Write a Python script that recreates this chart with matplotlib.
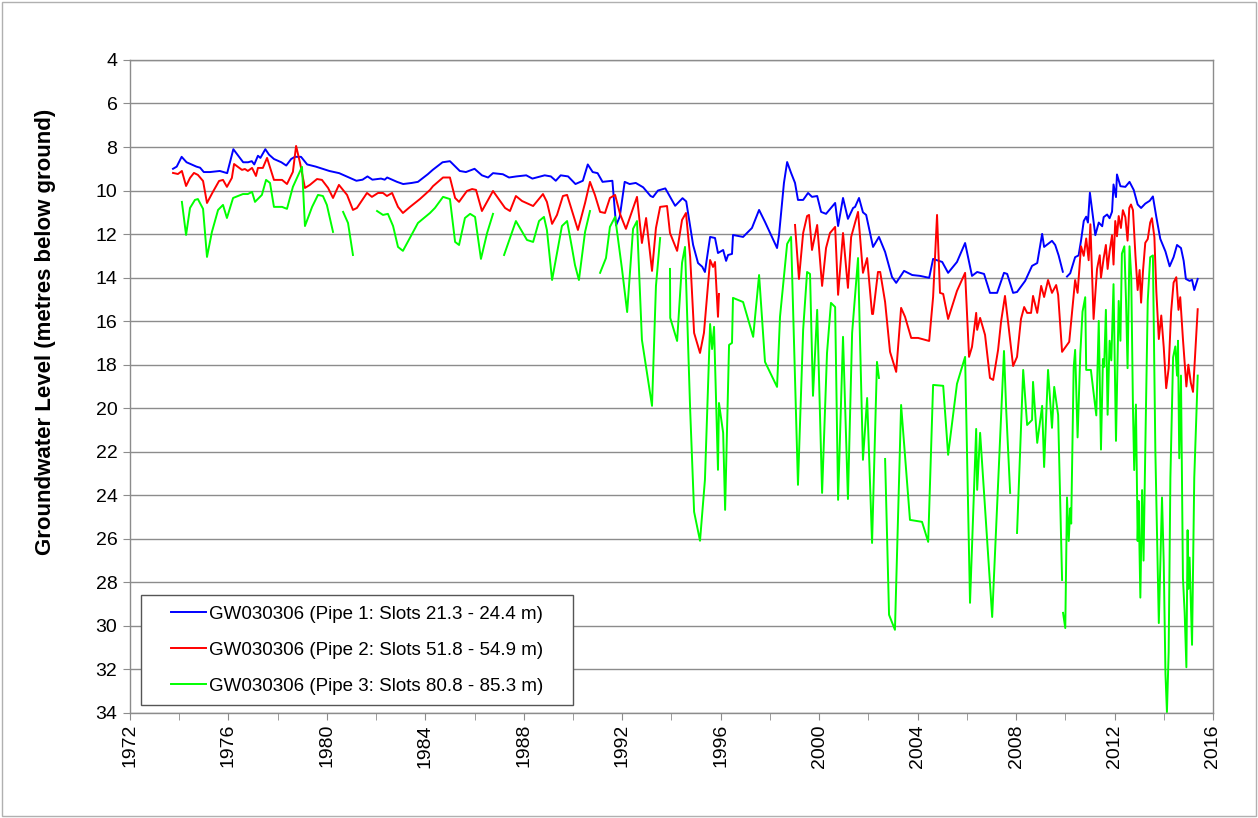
import numpy as np
import matplotlib.pyplot as plt
from matplotlib.patches import Rectangle
from matplotlib.ticker import MultipleLocator
from matplotlib.legend_handler import HandlerLine2D

nan = np.nan

# Pipe 1 (blue)
pipe1_year = [1973.75, 1973.9, 1974.1, 1974.3, 1974.5, 1974.7, 1974.85, 1975.0, 1975.25, 1975.65,
              1975.95, 1976.2, 1976.4, 1976.6, 1976.8, 1976.95, 1977.05, 1977.2, 1977.3, 1977.5,
              1977.65, 1977.85, 1978.15, 1978.35, 1978.55, 1978.7, 1978.95, 1979.2, 1979.55, 1980.1,
              1980.5, 1980.9, 1981.2, 1981.45, 1981.65, 1981.85, 1982.2, 1982.35, 1982.45, 1982.85,
              1983.1, 1983.45, 1983.7, 1984.1, 1984.3, 1984.7, 1985.0, 1985.4, 1985.65, 1986.0,
              1986.3, 1986.55, 1986.75, 1987.15, 1987.4, 1987.7, 1988.1, 1988.35, 1988.85, 1989.1,
              1989.3, 1989.5, 1989.8, 1990.1, 1990.4, 1990.6, 1990.8, 1991.0, 1991.2, 1991.6,
              1991.75, 1991.9, 1992.1, 1992.3, 1992.55, 1992.85, 1993.15, 1993.25, 1993.45, 1993.75,
              1994.15, 1994.45, 1994.6, 1994.88, 1995.08, 1995.25, 1995.36, 1995.57, 1995.77, 1995.89,
              1996.1, 1996.22, 1996.3, 1996.46, 1996.5, 1996.91, 1997.27, 1997.56, 1997.8, 1998.29,
              1998.37, 1998.57, 1998.7, 1998.86, 1999.02, 1999.14, 1999.35, 1999.55, 1999.71, 1999.92,
              2000.08, 2000.28, 2000.65, 2000.77, 2000.97, 2001.17, 2001.38, 2001.46, 2001.62, 2001.78,
              2001.91, 2002.19, 2002.43, 2002.68, 2002.96, 2003.13, 2003.45, 2003.78, 2004.1, 2004.47,
              2004.63, 2005.0, 2005.24, 2005.6, 2005.93, 2006.21, 2006.42, 2006.7, 2006.94, 2007.23,
              2007.51, 2007.64, 2007.88, 2008.04, 2008.37, 2008.65, 2008.86, 2009.06, 2009.14, 2009.46,
              2009.59, 2009.73, 2009.9, 2010.0, 2010.07, 2010.2, 2010.4, 2010.54, 2010.64, 2010.75,
              2010.85, 2010.92, 2011.0, 2011.08, 2011.22, 2011.36, 2011.5, 2011.56, 2011.7, 2011.8,
              2011.9, 2011.96, 2012.06, 2012.1, 2012.24, 2012.44, 2012.61, 2012.78, 2012.94, 2013.08,
              2013.25, 2013.43, 2013.56, 2013.7, 2013.86, 2014.07, 2014.24, 2014.4, 2014.54, 2014.7,
              2014.81, 2014.9, 2015.05, 2015.15, 2015.24, 2015.38]
pipe1_level = [9.0, 8.9, 8.45, 8.7, 8.8, 8.9, 8.95, 9.15, 9.15, 9.1,
               9.2, 8.1, 8.4, 8.7, 8.7, 8.65, 8.8, 8.4, 8.5, 8.1,
               8.35, 8.55, 8.7, 8.85, 8.55, 8.45, 8.45, 8.8, 8.9, 9.1,
               9.2, 9.4, 9.55, 9.5, 9.35, 9.5, 9.45, 9.5, 9.4, 9.6,
               9.7, 9.65, 9.6, 9.25, 9.05, 8.7, 8.65, 9.1, 9.15, 9.0,
               9.3, 9.4, 9.2, 9.25, 9.4, 9.35, 9.3, 9.45, 9.3, 9.35,
               9.55, 9.3, 9.35, 9.7, 9.55, 8.8, 9.15, 9.2, 9.6, 9.55,
               11.6, 11.2, 9.6, 9.7, 9.65, 9.85, 10.25, 10.3, 10.0, 9.9,
               10.7, 10.35, 10.5, 12.5, 13.33, 13.5, 13.74, 12.13, 12.18, 12.87,
               12.73, 13.23, 12.96, 12.91, 12.04, 12.13, 11.72, 10.89, 11.44, 12.64,
               12.04, 9.65, 8.69, 9.19, 9.65, 10.43, 10.43, 10.11, 10.29, 10.25,
               10.98, 11.07, 10.57, 11.63, 10.34, 11.3, 10.8, 10.75, 10.34, 11.0,
               11.12, 12.59, 12.13, 12.82, 13.97, 14.24, 13.69, 13.88, 13.92, 14.01,
               13.14, 13.28, 13.78, 13.28, 12.41, 13.92, 13.74, 13.83, 14.7, 14.7,
               13.78, 13.83, 14.7, 14.66, 14.15, 13.46, 13.33, 11.99, 12.59, 12.31,
               12.5, 12.98, 13.73, nan, 13.95, 13.8, 13.06, 12.98, 12.3, 11.4,
               11.2, 11.47, 10.1, 10.8, 12.05, 11.47, 11.64, 11.22, 11.1, 11.27,
               10.97, 9.72, 10.3, 9.26, 9.8, 9.83, 9.6, 9.97, 10.64, 10.8,
               10.6, 10.47, 10.27, 11.22, 12.22, 12.8, 13.48, 13.06, 12.5, 12.64,
               13.23, 14.06, 14.15, 14.1, 14.57, 14.06]

# Pipe 2 (red)
pipe2_year = [1973.75, 1973.95, 1974.11, 1974.28, 1974.44, 1974.6, 1974.76, 1974.97, 1975.13, 1975.37,
              1975.62, 1975.78, 1975.94, 1976.14, 1976.23, 1976.55, 1976.67, 1976.79, 1976.96, 1977.12,
              1977.2, 1977.4, 1977.57, 1977.85, 1978.18, 1978.38, 1978.62, 1978.75, 1978.91, 1979.11,
              1979.31, 1979.6, 1979.8, 1980.05, 1980.25, 1980.49, 1980.82, 1981.06, 1981.22, 1981.63,
              1981.83, 1982.08, 1982.28, 1982.44, 1982.65, 1982.89, 1983.09, 1983.38, 1983.78, 1984.19,
              1984.31, 1984.72, 1985.0, 1985.21, 1985.37, 1985.69, 1985.9, 1986.06, 1986.3, 1986.75,
              1987.24, 1987.44, 1987.68, 1987.93, 1988.38, 1988.78, 1988.94, 1989.15, 1989.35, 1989.59,
              1989.76, 1990.0, 1990.2, 1990.49, 1990.69, 1990.89, 1991.1, 1991.3, 1991.5, 1991.71,
              1991.91, 1992.15, 1992.4, 1992.6, 1992.8, 1992.97, 1993.21, 1993.37, 1993.54, 1993.82,
              1993.94, 1994.23, 1994.43, 1994.59, 1994.76, 1994.92, 1995.16, 1995.32, 1995.57, 1995.69,
              1995.77, 1995.89, 1995.93, 1997.5,
              1999.02, 1999.18, 1999.35, 1999.51, 1999.59, 1999.71, 1999.92, 2000.12, 2000.28, 2000.44,
              2000.65, 2000.77, 2000.97, 2001.17, 2001.3, 2001.58, 2001.78, 2001.95, 2002.15, 2002.19,
              2002.39, 2002.48, 2002.68, 2002.88, 2003.13, 2003.33, 2003.49, 2003.74, 2004.02, 2004.47,
              2004.63, 2004.79, 2004.91, 2005.04, 2005.24, 2005.6, 2005.93, 2006.09, 2006.21, 2006.38,
              2006.42, 2006.54, 2006.74, 2006.94, 2007.07, 2007.27, 2007.39, 2007.55, 2007.68, 2007.88,
              2008.04, 2008.2, 2008.33, 2008.45, 2008.61, 2008.69, 2008.86, 2009.02, 2009.14, 2009.3,
              2009.46, 2009.63, 2009.71, 2009.87, 2010.16, 2010.4, 2010.5, 2010.64, 2010.75, 2010.85,
              2010.95, 2011.02, 2011.15, 2011.29, 2011.4, 2011.45, 2011.56, 2011.65, 2011.72, 2011.8,
              2011.9, 2011.96, 2012.03, 2012.1, 2012.17, 2012.26, 2012.34, 2012.44, 2012.53, 2012.6,
              2012.67, 2012.75, 2012.85, 2012.94, 2013.02, 2013.08, 2013.16, 2013.25, 2013.35, 2013.45,
              2013.52, 2013.62, 2013.7, 2013.8, 2013.9, 2014.0, 2014.1, 2014.2, 2014.3, 2014.4,
              2014.51, 2014.6, 2014.67, 2014.78, 2014.92, 2015.0, 2015.1, 2015.19, 2015.38]
pipe2_level = [9.19, 9.24, 9.1, 9.79, 9.42, 9.19, 9.28, 9.56, 10.57, 10.06,
               9.56, 9.51, 9.83, 9.42, 8.78, 9.05, 9.01, 9.1, 8.96, 9.33,
               8.96, 8.96, 8.5, 9.51, 9.51, 9.7, 9.14, 7.95, 8.73, 9.88,
               9.74, 9.47, 9.51, 9.88, 10.34, 9.74, 10.2, 10.89, 10.8, 10.11,
               10.29, 10.11, 10.11, 10.25, 10.11, 10.75, 11.03, 10.75, 10.39, 9.97,
               9.8, 9.4, 9.4, 10.34, 10.52, 10.02, 9.93, 9.97, 10.94, 10.02,
               10.8, 10.94, 10.25, 10.48, 10.71, 10.16, 10.52, 11.53, 11.12, 10.25,
               10.2, 11.07, 11.81, 10.57, 9.6, 10.2, 10.98, 11.03, 10.34, 10.2,
               11.07, 11.76, 10.94, 10.29, 12.41, 11.26, 13.69, 11.72, 10.75, 10.71,
               11.95, 12.77, 11.35, 11.03, 13.05, 16.54, 17.46, 16.54, 13.19, 13.51,
               13.28, 15.8, 14.75, nan,
               11.58, 14.06, 11.95, 11.17, 11.12, 12.73, 11.58, 14.38, 12.64, 11.95,
               11.67, 14.79, 11.95, 14.47, 12.13, 10.98, 13.78, 13.1, 15.67, 15.67,
               13.74, 13.74, 15.12, 17.41, 18.33, 15.39, 15.8, 16.77, 16.77, 16.91,
               14.89, 11.12, 14.7, 14.75, 15.9, 14.61, 13.78, 17.64, 17.18, 15.62,
               16.4, 15.85, 16.63, 18.61, 18.7, 17.32, 16.03, 14.84, 16.08, 18.06,
               17.64, 15.9, 15.35, 15.62, 15.62, 14.84, 15.62, 14.38, 14.89, 14.11,
               14.7, 14.34, 14.79, 17.41, 16.95, 14.11, 14.7, 12.56, 13.0, 12.2,
               13.2, 11.55, 15.9, 13.6, 12.97, 14.0, 13.1, 12.5, 13.6, 12.8,
               12.05, 13.4, 11.4, 12.1, 11.17, 11.72, 10.9, 11.22, 12.3, 10.8,
               10.64, 10.9, 12.98, 14.57, 13.65, 15.15, 13.65, 12.4, 12.23, 11.47,
               11.27, 12.14, 14.65, 16.82, 15.74, 17.2, 19.08, 18.16, 15.57, 14.23,
               13.98, 15.48, 14.9, 16.82, 19.0, 18.0, 18.83, 19.25, 15.45]

# Pipe 3 (green)
pipe3_year = [1974.11, 1974.28, 1974.44, 1974.64, 1974.76, 1974.97, 1975.13, 1975.33, 1975.58, 1975.78,
              1975.94, 1976.19, 1976.59, 1976.79, 1976.96, 1977.08, 1977.36, 1977.53, 1977.69, 1977.85,
              1978.18, 1978.38, 1978.62, 1978.99, 1979.11, 1979.4, 1979.64, 1979.84, 1980.0, 1980.25,
              1980.45,
              1980.66, 1980.86, 1981.06, 1981.5,
              1982.04, 1982.28, 1982.48, 1982.69, 1982.89, 1983.09, 1983.7, 1984.19, 1984.39, 1984.72,
              1985.0, 1985.21, 1985.37, 1985.61, 1985.82, 1986.02, 1986.26, 1986.51, 1986.75, 1987.0,
              1987.2, 1987.68, 1988.13, 1988.38, 1988.62, 1988.82, 1988.94, 1989.15, 1989.35, 1989.55,
              1989.76, 1989.96, 1990.08, 1990.24, 1990.49, 1990.69, 1990.9,
              1991.1, 1991.34, 1991.5, 1991.71, 1991.99, 1992.2, 1992.44, 1992.6, 1992.8, 1993.21,
              1993.37, 1993.54, 1993.75,
              1993.94, 1993.95, 1994.23, 1994.43, 1994.55, 1994.76, 1994.92, 1995.16, 1995.36, 1995.57,
              1995.65, 1995.73, 1995.89, 1995.93, 1996.1, 1996.18, 1996.34, 1996.46, 1996.5, 1996.91,
              1997.32, 1997.56, 1997.8, 1998.29, 1998.41, 1998.7, 1998.86, 1999.14, 1999.35, 1999.51,
              1999.63, 1999.75, 1999.92, 2000.12, 2000.32, 2000.48, 2000.65, 2000.77, 2000.97, 2001.17,
              2001.34, 2001.58, 2001.78, 2001.95, 2002.15, 2002.35, 2002.43, 2002.55,
              2002.68, 2002.84, 2003.08, 2003.33, 2003.69, 2004.18, 2004.43, 2004.63, 2005.04, 2005.24,
              2005.6, 2005.93, 2006.13, 2006.38, 2006.42, 2006.54, 2007.03, 2007.51, 2007.6, 2007.76,
              2007.9,
              2008.04, 2008.29, 2008.45, 2008.65, 2008.69, 2008.86, 2009.06, 2009.14, 2009.3, 2009.46,
              2009.55, 2009.71, 2009.87, 2009.89,
              2009.91, 2010.0, 2010.07, 2010.14, 2010.2, 2010.24, 2010.34, 2010.4, 2010.5, 2010.61,
              2010.7, 2010.81, 2010.85, 2011.04, 2011.26, 2011.36, 2011.45, 2011.53, 2011.58, 2011.65,
              2011.72, 2011.8, 2011.87, 2011.96, 2012.06, 2012.17, 2012.24, 2012.3, 2012.4, 2012.47,
              2012.53, 2012.61, 2012.68, 2012.75, 2012.8, 2012.87, 2012.94, 2012.98, 2013.05, 2013.12,
              2013.18, 2013.25, 2013.35, 2013.45, 2013.56, 2013.66, 2013.8, 2013.93, 2014.0, 2014.07,
              2014.13, 2014.2, 2014.27, 2014.38, 2014.47, 2014.54, 2014.58, 2014.63, 2014.7, 2014.78,
              2014.85, 2014.92, 2014.97, 2015.0, 2015.05, 2015.15, 2015.24, 2015.38]
pipe3_level = [10.52, 12.04, 10.8, 10.43, 10.39, 10.84, 13.05, 11.9, 10.89, 10.66,
               11.26, 10.34, 10.16, 10.16, 10.06, 10.52, 10.2, 9.51, 9.65, 10.75,
               10.75, 10.84, 9.83, 8.91, 11.63, 10.75, 10.2, 10.25, 10.66, 11.9,
               nan,
               10.98, 11.49, 12.96, nan,
               10.94, 11.12, 11.07, 11.63, 12.59, 12.77, 11.49, 11.03, 10.8, 10.29,
               10.39, 12.36, 12.5, 11.26, 11.07, 11.21, 13.14, 11.95, 11.07, nan,
               12.96, 11.4, 12.27, 12.36, 11.4, 11.21, 11.81, 14.11, 12.87, 11.63,
               11.4, 12.64, 13.42, 14.11, 11.9, 10.94, nan,
               13.78, 13.1, 11.67, 11.21, 13.6, 15.58, 11.76, 11.4, 16.86, 19.89,
               14.38, 12.18, nan,
               13.6, 15.85, 16.91, 13.32, 12.59, 20.08, 24.76, 26.09, 23.29, 16.13,
               17.28, 16.26, 22.83, 19.76, 21.13, 24.67, 17.09, 17.0, 14.93, 15.12,
               16.72, 13.88, 17.87, 19.02, 15.8, 12.45, 12.13, 23.52, 16.4, 13.74,
               13.83, 19.43, 15.48, 23.89, 17.46, 15.16, 15.35, 24.21, 16.72, 24.17,
               16.54, 13.1, 22.37, 19.53, 26.19, 17.87, 18.61, nan,
               22.33, 29.49, 30.18, 19.85, 25.13, 25.22, 26.14, 18.93, 18.97, 22.14,
               18.88, 17.64, 28.94, 20.95, 23.75, 21.13, 29.59, 17.37, 20.08, 23.89,
               nan,
               25.73, 18.24, 20.77, 20.54, 18.79, 21.59, 19.89, 22.7, 18.24, 20.9,
               19.02, 20.31, 27.89, nan,
               29.4, 30.1, 24.1, 26.1, 24.6, 25.3, 18.16, 17.32, 21.34, 17.5,
               15.57, 14.9, 18.24, 18.24, 20.33, 15.99, 21.9, 17.74, 18.1, 15.48,
               20.3, 16.9, 17.8, 14.3, 21.5, 15.07, 16.9, 12.9, 12.56, 15.15,
               18.16, 12.56, 13.98, 20.0, 22.84, 19.83, 26.1, 24.26, 28.7, 23.76,
               27.0, 21.92, 15.07, 13.06, 12.98, 22.0, 29.87, 24.1, 27.1, 32.2,
               33.96, 31.2, 23.2, 17.66, 17.16, 18.5, 16.9, 22.3, 18.5, 27.8,
               29.4, 31.9, 25.6, 28.3, 26.86, 30.87, 23.2, 18.5]

series_labels = ['GW030306 (Pipe 1: Slots 21.3 - 24.4 m)',
                 'GW030306 (Pipe 2: Slots 51.8 - 54.9 m)',
                 'GW030306 (Pipe 3: Slots 80.8 - 85.3 m)']


class ShortLine(HandlerLine2D):
    # legend line drawn only on the right part of the handle box
    def create_artists(self, legend, orig_handle, xdescent, ydescent, width, height, fontsize, trans):
        shift = width * 0.37
        return super().create_artists(legend, orig_handle, xdescent - shift, ydescent,
                                      width - shift, height, fontsize, trans)


plt.rcParams['font.family'] = ['Liberation Sans', 'DejaVu Sans']

fig = plt.figure(figsize=(12.58, 8.18), dpi=100)
fig.patches.append(Rectangle((0.0015, 0.002), 0.997, 0.996, transform=fig.transFigure,
                             fill=False, edgecolor='#b0b0b0', linewidth=1))
ax = fig.add_axes([0.1033, 0.1284, 0.8609, 0.7983])

ax.plot(pipe1_year, pipe1_level, color='#0000ff', lw=1.4, label=series_labels[0])
ax.plot(pipe2_year, pipe2_level, color='#ff0000', lw=1.4, label=series_labels[1])
ax.plot(pipe3_year, pipe3_level, color='#00ff00', lw=1.4, label=series_labels[2])

ax.set_xlim(1972, 2016)
ax.set_ylim(34, 4)
ax.xaxis.set_major_locator(MultipleLocator(4))
ax.xaxis.set_minor_locator(MultipleLocator(2))
ax.yaxis.set_major_locator(MultipleLocator(2))
ax.grid(True, axis='y', color='#8c8c8c', lw=1)
ax.set_axisbelow(True)
for s in ax.spines.values():
    s.set_color('#8c8c8c')
    s.set_linewidth(1)
ax.tick_params(axis='both', which='both', direction='out', color='#8c8c8c', length=5, labelsize=14)
ax.tick_params(axis='x', which='major', rotation=90, pad=3)
ax.tick_params(axis='y', pad=4)

ax.set_ylabel('Groundwater Level (metres below ground)', fontsize=16, fontweight='bold')
ax.yaxis.set_label_coords(-0.068, 0.583)

leg = ax.legend(loc='lower left', bbox_to_anchor=(0.0102, 0.0123, 0.399, 0.2), mode='expand',
                fontsize=13.5, frameon=True, fancybox=False, framealpha=1, edgecolor='#555555',
                handlelength=2.9, handletextpad=0.16, labelspacing=1.0, borderpad=0.55,
                borderaxespad=0, handler_map={plt.Line2D: ShortLine()})
leg.get_frame().set_linewidth(1)

fig.savefig('out.png', dpi=100)
